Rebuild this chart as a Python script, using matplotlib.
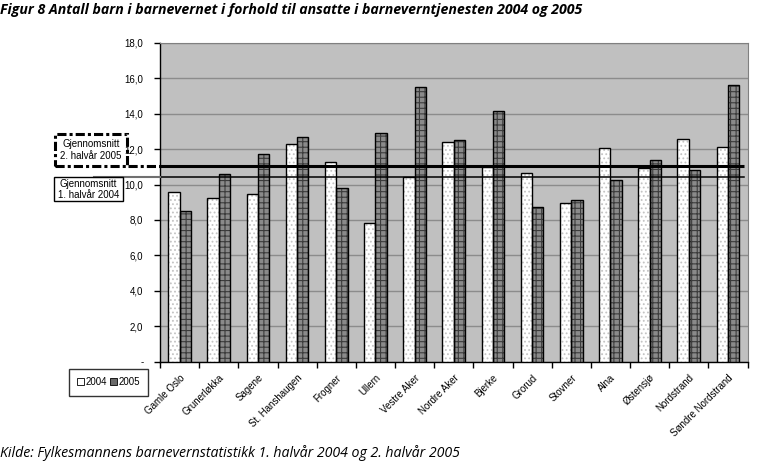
import numpy as np
import matplotlib
matplotlib.use("Agg")
import matplotlib.pyplot as plt
from matplotlib.patches import Rectangle, Patch
from matplotlib.lines import Line2D

# data
bydeler = ["Gamle Oslo", "Grunerløkka", "Sagene", "St. Hanshaugen", "Frogner",
           "Ullern", "Vestre Aker", "Nordre Aker", "Bjerke", "Grorud",
           "Stovner", "Alna", "Østensjø", "Nordstrand", "Søndre Nordstrand"]
v2004 = [9.6, 9.26, 9.49, 12.32, 11.25, 7.85, 10.45, 12.38, 11.0, 10.66,
         8.98, 12.09, 10.96, 12.55, 12.15]
v2005 = [8.53, 10.57, 11.70, 12.66, 9.83, 12.89, 15.49, 12.49, 14.13, 8.75,
         9.15, 10.28, 11.41, 10.85, 15.60]
snitt_2004 = 10.41
snitt_2005 = 11.05
yticks = [0, 2, 4, 6, 8, 10, 12, 14, 16, 18]
ytick_labels = ["-", "2,0", "4,0", "6,0", "8,0", "10,0", "12,0", "14,0", "16,0", "18,0"]

plt.rcParams["font.family"] = ["Liberation Sans", "DejaVu Sans"]
plt.rcParams["hatch.linewidth"] = 0.8

fig = plt.figure(figsize=(7.7, 4.74), dpi=100)
ax = fig.add_axes([160 / 770, 1 - 361.5 / 474, 587.5 / 770, 318.5 / 474])
ax.set_facecolor("#c0c0c0")

x = np.arange(len(bydeler))
w = 0.29

# 2004: white with light dots, 2005: grey with crosshatch
ax.bar(x - w / 2, v2004, w, color="white", edgecolor="#c4c4c4", hatch="....",
       linewidth=0, zorder=3)
ax.bar(x - w / 2, v2004, w, color="none", edgecolor="black", linewidth=1.0, zorder=4)
ax.bar(x + w / 2, v2005, w, color="#8a8a8a", edgecolor="#3c3c3c", hatch="+++",
       linewidth=0, zorder=3)
ax.bar(x + w / 2, v2005, w, color="none", edgecolor="black", linewidth=1.0, zorder=4)

ax.set_xlim(-0.5, len(bydeler) - 0.5)
ax.set_ylim(0, 18)
ax.set_yticks(yticks)
ax.set_yticklabels(ytick_labels, fontsize=7)
ax.yaxis.grid(True, color="#8c8c8c", linewidth=1.0, zorder=1)
ax.set_axisbelow(True)

ax.set_xticks(x)
ax.set_xticklabels(bydeler, rotation=45, ha="right", rotation_mode="anchor", fontsize=7)
ax.set_xticks(np.arange(len(bydeler) + 1) - 0.5, minor=True)
ax.tick_params(axis="x", which="major", length=0, pad=8)
ax.tick_params(axis="x", which="minor", length=4, width=1, color="black", direction="out")
ax.tick_params(axis="y", length=4, width=1, color="black", direction="out", pad=8)

for s in ["top", "right"]:
    ax.spines[s].set_color("#808080")
for s in ["left", "bottom"]:
    ax.spines[s].set_color("black")
    ax.spines[s].set_linewidth(1.0)

# average lines
ax.plot([-0.5, 14.42], [snitt_2005, snitt_2005], color="black", lw=2.2, zorder=5,
        solid_capstyle="butt")
ax.plot([-0.5, 14.42], [snitt_2004, snitt_2004], color="black", lw=1.1, zorder=5)

# lines/boxes outside the plot area (figure pixel coords)
def fx(px):
    return px / 770

def fy(py):
    return 1 - py / 474

fig.add_artist(Line2D([fx(94), fx(160)], [fy(177), fy(177)], color="#707070", lw=1.5))
fig.add_artist(Line2D([fx(128), fx(160)], [fy(165.7), fy(165.7)], color="black", lw=2.2,
                      linestyle=(0, (3, 1, 1, 1))))
fig.add_artist(Rectangle((fx(55), fy(165.7)), fx(127) - fx(55), fy(134.3) - fy(165.7),
                         fill=False, edgecolor="black", lw=2.2, linestyle=(0, (3, 1, 1, 1))))
fig.add_artist(Rectangle((fx(54), fy(201)), fx(123) - fx(54), fy(176.7) - fy(201),
                         fill=False, edgecolor="black", lw=1.0, zorder=3))
fig.text(fx(91), fy(150), "Gjennomsnitt\n2. halvår 2005", ha="center", va="center",
         fontsize=7, linespacing=1.25)
fig.text(fx(88.5), fy(189.5), "Gjennomsnitt\n1. halvår 2004", ha="center", va="center",
         fontsize=7, linespacing=1.15)

# legend
handles = [Patch(facecolor="white", edgecolor="black", lw=0.6, label="2004"),
           Patch(facecolor="#6a6a6a", edgecolor="black", lw=0.6, label="2005")]
leg = fig.legend(handles=handles, loc="upper left", bbox_to_anchor=(fx(69), fy(369)),
                 ncol=2, fontsize=7, frameon=True, fancybox=False, handlelength=0.7,
                 handleheight=0.7, handletextpad=0.15, columnspacing=0.35,
                 borderpad=0.85, borderaxespad=0)
leg.get_frame().set_edgecolor("black")
leg.get_frame().set_linewidth(1.0)

fig.text(0.0, fy(10), "Figur 8 Antall barn i barnevernet i forhold til ansatte i barneverntjenesten 2004 og 2005",
         ha="left", va="center", fontsize=10.2, style="italic", weight="bold",
         family=["Open Sans", "DejaVu Sans"])
fig.text(0.0, fy(453), "Kilde: Fylkesmannens barnevernstatistikk 1. halvår 2004 og 2. halvår 2005",
         ha="left", va="center", fontsize=10.2, style="italic", family=["Open Sans", "DejaVu Sans"])

fig.savefig("out.png", dpi=100)
